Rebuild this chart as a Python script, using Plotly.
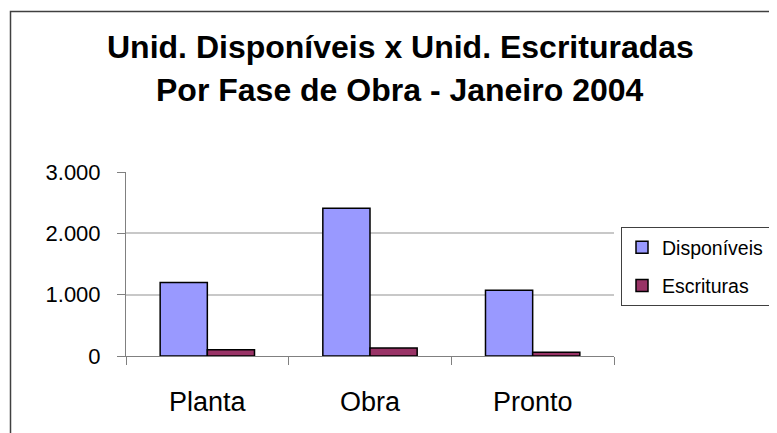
import plotly.graph_objects as go

categories = ["Planta", "Obra", "Pronto"]
disponiveis = [1200, 2410, 1070]
escrituras = [100, 130, 60]
y_ticks = [0, 1000, 2000, 3000]
y_tick_labels = ["0", "1.000", "2.000", "3.000"]
title_line1 = "Unid. Disponíveis x Unid. Escrituradas"
title_line2 = "Por Fase de Obra - Janeiro 2004"

# page body has an 8px default margin, so the figure is 8px smaller
W, H = 769, 425
L, R, T, B = 118, 163, 164, 77
pw, ph = W - L - R, H - T - B

def px_x(x):
    return (x - L) / pw

def px_y(y):
    return (H - B - y) / ph

fig = go.Figure()
fig.add_trace(go.Bar(name="Disponíveis", x=categories, y=disponiveis, legendgroup="d",
                     marker=dict(color="#9999FF", line=dict(color="#000000", width=1.5))))
fig.add_trace(go.Bar(name="Escrituras", x=categories, y=escrituras, legendgroup="e",
                     marker=dict(color="#993366", line=dict(color="#000000", width=1.5))))

font_main = "Liberation Sans, Arial, sans-serif"

fig.update_layout(
    width=W, height=H,
    margin=dict(l=L, r=R, t=T, b=B, pad=0, autoexpand=False),
    paper_bgcolor="white", plot_bgcolor="white",
    barmode="group", bargap=0.42, bargroupgap=0,
    font=dict(family=font_main, color="#000000"),
    showlegend=True,
    legend=dict(x=px_x(613), y=px_y(219), xanchor="left", yanchor="top",
                bordercolor="#404040", borderwidth=1, bgcolor="white",
                font=dict(size=19.5, family=font_main),
                traceorder="grouped", tracegroupgap=10,
                itemwidth=30),
    xaxis=dict(showline=True, linecolor="#808080", linewidth=1,
               ticks="outside", tickson="boundaries", ticklen=8, tickcolor="#808080",
               tickfont=dict(size=27), ticklabelstandoff=22,
               showgrid=False, fixedrange=True),
    yaxis=dict(range=[0, 3000], tickvals=y_ticks, ticktext=y_tick_labels,
               showline=True, linecolor="#808080", linewidth=1,
               ticks="outside", ticklen=8, tickcolor="#808080",
               tickfont=dict(size=22), ticklabelstandoff=12,
               showgrid=True, gridcolor="#C8C8C8", gridwidth=1.5,
               zeroline=False, fixedrange=True),
    annotations=[
        dict(text=title_line1, xref="paper", yref="paper", x=px_x(392), y=px_y(38.8),
             xanchor="center", yanchor="middle", showarrow=False,
             font=dict(size=32, family=font_main, color="#000000", weight="bold")),
        dict(text=title_line2, xref="paper", yref="paper", x=px_x(392), y=px_y(81.8),
             xanchor="center", yanchor="middle", showarrow=False,
             font=dict(size=32, family=font_main, color="#000000", weight="bold")),
    ],
    shapes=[
        dict(type="rect", xref="paper", yref="paper",
             x0=px_x(2.5), x1=px_x(800), y0=px_y(460), y1=px_y(3.5),
             line=dict(color="#404040", width=1.5), layer="below"),
    ],
)

fig.write_html("out.html")
